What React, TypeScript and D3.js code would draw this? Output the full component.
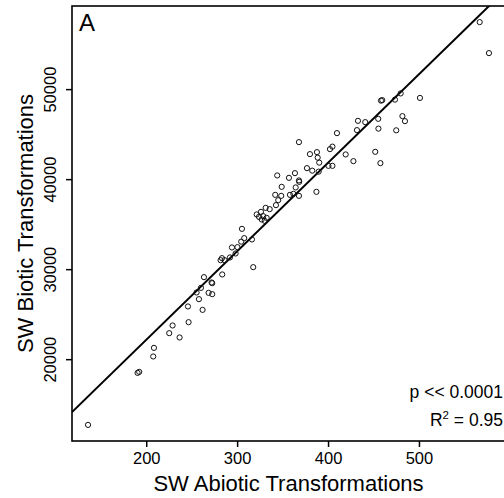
import { useEffect, useRef } from 'react'
import * as d3 from 'd3'

// SW abiotic (x) vs biotic (y) transformations
const abioticX = [
  136, 190.5, 192.3, 207.7, 208.5, 225.3, 229.0, 236.7, 246.6, 245.9,
  258.0, 262.0, 255.4, 260.2, 268.6, 272.6, 263.5, 271.9, 272.6, 283.6,
  281.8, 283.3, 286.2, 292.1, 298.3, 294.3, 300.3, 304.5, 307.8, 316.3,
  305.3, 317.7, 321.5, 324.0, 326.2, 327.0, 328.7, 330.3, 332.5, 331.4,
  335.8, 342.7, 345.2, 341.9, 348.5, 358.1, 361.9, 368.0, 349.0, 364.4,
  344.1, 357.0, 363.6, 368.0, 368.3, 387.2, 376.8, 382.6, 389.7, 400.4,
  404.8, 380.1, 387.8, 388.6, 390.3, 402.1, 404.8, 419.4, 427.9, 451.9,
  457.6, 368.0, 409.8, 431.8, 432.9, 440.9, 455.2, 455.4, 475.0, 481.8,
  484.6, 458.2, 459.6, 473.6, 479.9, 501.1, 566.8, 577.0
]
const bioticY = [
  12700, 18478, 18589, 20300, 21256, 22889, 23744, 22411, 24111, 25856,
  26667, 25478, 27411, 27922, 27367, 27222, 29111, 28522, 28444, 29411,
  31000, 31222, 31000, 31300, 31744, 32411, 32444, 33056, 33444, 33300,
  34478, 30222, 36078, 35811, 36367, 35522, 35889, 35367, 35700, 36811,
  36667, 37111, 37667, 38256, 38144, 38256, 38367, 38144, 39144, 39078,
  40411, 40144, 40667, 39856, 39700, 38589, 41222, 40944, 40833, 41478,
  41478, 42778, 43000, 42389, 41833, 43333, 43611, 42744, 42000, 43033,
  41778, 44111, 45111, 45444, 46478, 46333, 46700, 45611, 45422, 47000,
  46444, 48722, 48778, 48833, 49522, 49022, 57444, 54000
]
const xTicks = [200, 300, 400, 500]
const yTicks = [20000, 30000, 40000, 50000]

// fitted line y = a + b*x
const fitIntercept = 2476
const fitSlope = 98.35

const panelLabel = 'A'
const xTitle = 'SW Abiotic Transformations'
const yTitle = 'SW Biotic Transformations'
const pText = 'p << 0.0001'
const r2Value = '0.95'

const font = '"Liberation Sans", Arial, sans-serif'

// R style axis range: data extent plus 4% on each side
const pad = (ext: [number, number]): [number, number] => {
  const r = ext[1] - ext[0]
  return [ext[0] - 0.04 * r, ext[1] + 0.04 * r]
}

function App() {
  const ref = useRef<SVGSVGElement>(null)

  useEffect(() => {
    const W = 504, H = 498
    const left = 72, top = 6, right = 505, bottom = 441

    const svg = d3.select(ref.current)
    svg.selectAll('*').remove()

    const x = d3.scaleLinear()
      .domain(pad(d3.extent(abioticX) as [number, number]))
      .range([left, right])
    const y = d3.scaleLinear()
      .domain(pad(d3.extent(bioticY) as [number, number]))
      .range([bottom, top])

    svg.append('defs').append('clipPath').attr('id', 'plotclip')
      .append('rect')
      .attr('x', left).attr('y', top)
      .attr('width', right - left).attr('height', bottom - top)

    // regression line
    const [x0, x1] = x.domain()
    svg.append('line')
      .attr('clip-path', 'url(#plotclip)')
      .attr('x1', x(x0)).attr('y1', y(fitIntercept + fitSlope * x0))
      .attr('x2', x(x1)).attr('y2', y(fitIntercept + fitSlope * x1))
      .attr('stroke', '#000')
      .attr('stroke-width', 2)

    // points
    svg.append('g')
      .selectAll('circle')
      .data(abioticX.map((v, i) => [v, bioticY[i]]))
      .join('circle')
      .attr('cx', d => x(d[0]))
      .attr('cy', d => y(d[1]))
      .attr('r', 2.6)
      .attr('fill', 'none')
      .attr('stroke', '#111')
      .attr('stroke-width', 1)

    // box
    svg.append('rect')
      .attr('x', left).attr('y', top)
      .attr('width', right - left).attr('height', bottom - top)
      .attr('fill', 'none')
      .attr('stroke', '#000')
      .attr('stroke-width', 1.6)

    // x axis
    const gx = svg.append('g')
      .attr('transform', `translate(0,${bottom})`)
      .call(d3.axisBottom(x).tickValues(xTicks).tickSize(6).tickSizeOuter(0).tickFormat(d3.format('d')))
    gx.select('.domain').remove()
    gx.selectAll('line').attr('stroke', '#000').attr('stroke-width', 1.5)
    gx.selectAll('text')
      .attr('y', 23).attr('dy', 0)
      .attr('font-family', font).attr('font-size', 16.5).attr('fill', '#000')

    // y axis
    const gy = svg.append('g')
      .attr('transform', `translate(${left},0)`)
      .call(d3.axisLeft(y).tickValues(yTicks).tickSize(6).tickSizeOuter(0).tickFormat(d3.format('d')))
    gy.select('.domain').remove()
    gy.selectAll('line').attr('stroke', '#000').attr('stroke-width', 1.5)
    gy.selectAll('text')
      .attr('x', 0).attr('dy', 0)
      .attr('transform', 'translate(-16,0) rotate(-90)')
      .attr('text-anchor', 'middle')
      .attr('font-family', font).attr('font-size', 16.5).attr('fill', '#000')

    // titles
    svg.append('text')
      .attr('x', (left + right) / 2).attr('y', 491)
      .attr('text-anchor', 'middle')
      .attr('font-family', font).attr('font-size', 22)
      .text(xTitle)
    svg.append('text')
      .attr('transform', `translate(33,${(top + bottom) / 2}) rotate(-90)`)
      .attr('text-anchor', 'middle')
      .attr('font-family', font).attr('font-size', 22)
      .text(yTitle)

    svg.append('text')
      .attr('x', 79).attr('y', 31)
      .attr('font-family', font).attr('font-size', 24)
      .text(panelLabel)

    // stats
    svg.append('text')
      .attr('x', 503).attr('y', 398)
      .attr('text-anchor', 'end')
      .attr('font-family', font).attr('font-size', 17.5)
      .text(pText)
    const r2 = svg.append('text')
      .attr('x', 503).attr('y', 426)
      .attr('text-anchor', 'end')
      .attr('font-family', font).attr('font-size', 17.5)
    r2.append('tspan').text('R')
    r2.append('tspan').attr('dy', -7).attr('font-size', 11.5).text('2')
    r2.append('tspan').attr('dy', 7).text(` = ${r2Value}`)

    svg.attr('width', W).attr('height', H)
  }, [])

  return (
    <svg ref={ref} width={504} height={498}
      style={{ position: 'absolute', left: 0, top: 0, background: '#fff' }} />
  )
}

export default App
